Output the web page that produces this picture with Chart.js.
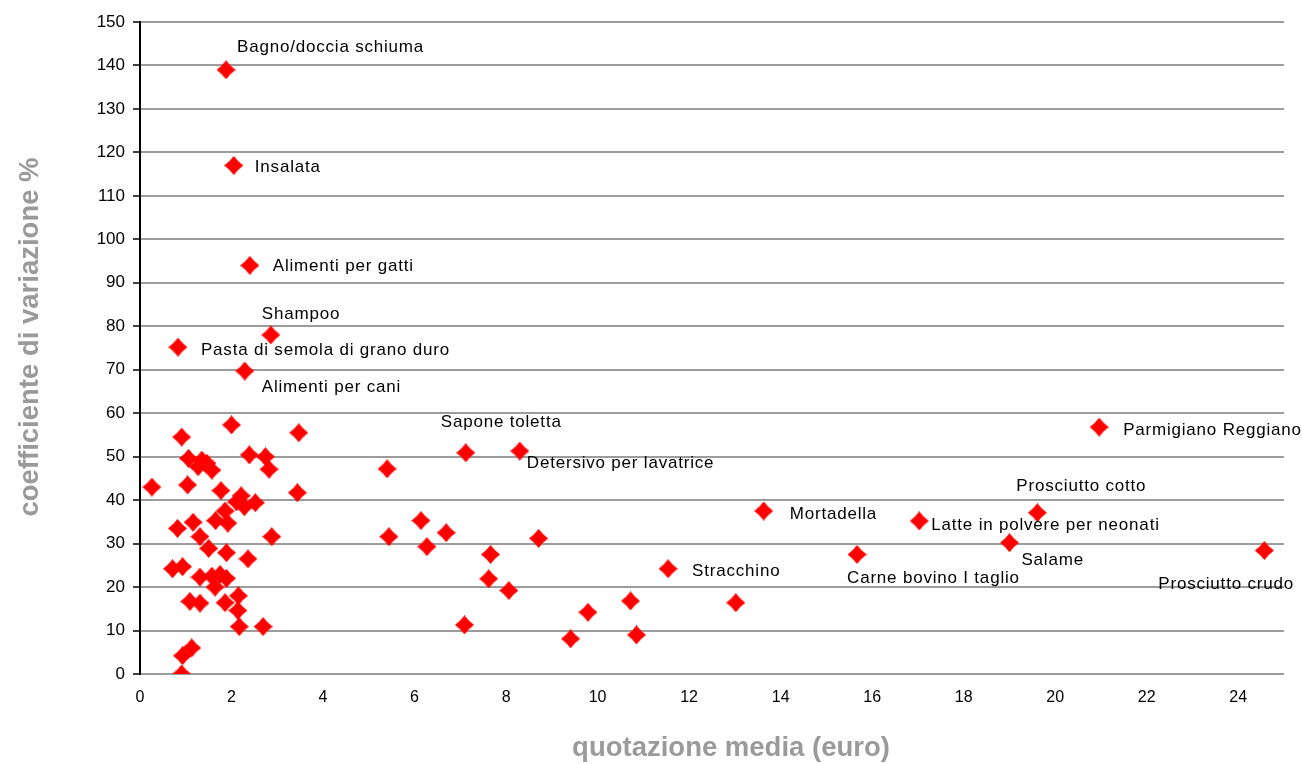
<!DOCTYPE html>
<html lang="it">
<head>
<meta charset="utf-8">
<title>Quotazione media e coefficiente di variazione</title>
<script src="https://cdn.jsdelivr.net/npm/chart.js@4.4.1/dist/chart.umd.min.js"></script>
<style>
  html, body { margin: 0; padding: 0; background: #ffffff; }
  #wrap { position: relative; width: 1302px; height: 764px; }
</style>
</head>
<body>
<div id="wrap"><canvas id="chart" width="1302" height="764"></canvas></div>
<script>
// Prodotti (nome vuoto = punto senza etichetta)
const productNames = [
  'Bagno/doccia schiuma', 'Insalata', 'Alimenti per gatti', 'Shampoo',
  'Pasta di semola di grano duro', 'Alimenti per cani', 'Sapone toletta',
  'Detersivo per lavatrice', 'Parmigiano Reggiano', 'Prosciutto cotto',
  'Mortadella', 'Latte in polvere per neonati', 'Salame',
  'Carne bovino I taglio', 'Prosciutto crudo', 'Stracchino',
  '', '', '', '', '', '', '', '', '', '', '', '', '', '', '', '', '', '', '', '',
  '', '', '', '', '', '', '', '', '', '', '', '', '', '', '', '', '', '', '', '',
  '', '', '', '', '', '', '', '', '', '', '', '', '', '', '', '', '', '', '', '',
  ''
];

// quotazione media (euro)
const priceEuro = [
  1.88, 2.05, 2.40, 2.86, 0.83, 2.29, 7.12, 8.30, 20.96, 19.61,
  13.63, 17.03, 19.00, 15.67, 24.57, 11.54,
  0.26, 0.91, 1.06, 1.35, 1.27, 1.46, 1.57, 1.04, 1.77, 2.00,
  3.47, 2.39, 2.74, 2.82, 3.44, 2.21, 2.11, 2.28, 2.52, 1.86,
  1.65, 1.92, 0.82, 1.16, 1.31, 2.88, 1.50, 1.89, 2.36, 0.71,
  0.93, 1.31, 1.57, 1.75, 1.89, 1.64, 2.15, 1.09, 1.31, 1.86,
  2.14, 2.17, 2.69, 1.13, 0.93, 0.91,
  5.40, 6.14, 5.44, 6.69, 6.27, 8.71, 7.66, 7.62, 8.06, 7.09,
  9.79, 9.41, 10.72, 10.85, 13.02
];

// coefficiente di variazione %
const cvPercent = [
  139.0, 117.0, 94.0, 78.0, 75.2, 69.7, 50.9, 51.3, 56.8, 37.1,
  37.5, 35.2, 30.2, 27.5, 28.4, 24.2,
  43.0, 54.5, 49.6, 49.2, 47.7, 48.5, 46.9, 43.5, 42.2, 57.3,
  55.5, 50.4, 50.0, 47.1, 41.7, 41.0, 39.6, 38.5, 39.4, 37.5,
  35.3, 34.7, 33.5, 34.9, 31.6, 31.6, 28.9, 27.9, 26.5, 24.2,
  24.7, 22.3, 22.5, 22.9, 22.0, 20.0, 18.0, 16.7, 16.3, 16.4,
  14.6, 10.9, 10.9, 6.0, 4.2, 0.0,
  47.2, 35.3, 31.6, 32.5, 29.3, 31.2, 27.5, 21.9, 19.2, 11.3,
  14.2, 8.1, 16.8, 9.0, 16.4
];

// tacche degli assi
const xTickValues = [0, 2, 4, 6, 8, 10, 12, 14, 16, 18, 20, 22, 24];
const yTickValues = [0, 10, 20, 30, 40, 50, 60, 70, 80, 90, 100, 110, 120, 130, 140, 150];

// spostamento (px) del testo di ogni etichetta rispetto al suo punto
const labelShift = {
  'Bagno/doccia schiuma': [11, -23],
  'Insalata': [21, 2],
  'Alimenti per gatti': [23, 1],
  'Shampoo': [-9, -21],
  'Pasta di semola di grano duro': [23, 3],
  'Alimenti per cani': [17, 16],
  'Sapone toletta': [-25, -30],
  'Detersivo per lavatrice': [7, 12],
  'Parmigiano Reggiano': [24, 3],
  'Prosciutto cotto': [-21, -26],
  'Mortadella': [26, 3],
  'Latte in polvere per neonati': [12, 4],
  'Salame': [12, 18],
  'Carne bovino I taglio': [-10, 24],
  'Prosciutto crudo': [-106, 34],
  'Stracchino': [24, 3]
};

const FONT = '"Liberation Sans", Arial, Helvetica, sans-serif';

// marcatore a rombo rosso con lati appena concavi
function makeDiamond(size) {
  const c = document.createElement('canvas');
  c.width = size; c.height = size;
  const g = c.getContext('2d');
  const m = size / 2, q = size * 0.215;
  g.fillStyle = '#ff0000';
  g.beginPath();
  g.moveTo(m, 0);
  g.quadraticCurveTo(m + q, m - q, size, m);
  g.quadraticCurveTo(m + q, m + q, m, size);
  g.quadraticCurveTo(m - q, m + q, 0, m);
  g.quadraticCurveTo(m - q, m - q, m, 0);
  g.closePath();
  g.fill();
  return c;
}
const diamond = makeDiamond(19);

const points = priceEuro.map((x, i) => ({ x: x, y: cvPercent[i], name: productNames[i] }));

// etichette dei prodotti accanto ai punti
const pointLabels = {
  id: 'pointLabels',
  afterDatasetsDraw(chart) {
    const { ctx, scales } = chart;
    ctx.save();
    ctx.font = '17px ' + FONT;
    if ('letterSpacing' in ctx) ctx.letterSpacing = '0.8px';
    ctx.fillStyle = '#000000';
    ctx.textBaseline = 'middle';
    ctx.textAlign = 'left';
    points.forEach(p => {
      if (!p.name) return;
      const s = labelShift[p.name] || [10, 0];
      const px = scales.x.getPixelForValue(p.x);
      const py = scales.y.getPixelForValue(p.y);
      ctx.fillText(p.name, px + s[0], py + s[1]);
    });
    ctx.restore();
  }
};

// titoli degli assi
const axisTitles = {
  id: 'axisTitles',
  afterDraw(chart) {
    const { ctx, chartArea } = chart;
    ctx.save();
    ctx.fillStyle = '#9a9a9a';
    ctx.font = 'bold 27.5px ' + FONT;
    ctx.textAlign = 'center';
    ctx.textBaseline = 'middle';
    ctx.fillText('quotazione media (euro)', (chartArea.left + chartArea.right) / 2 + 19, 748);
    ctx.translate(30, (chartArea.top + chartArea.bottom) / 2 - 11);
    ctx.rotate(-Math.PI / 2);
    ctx.fillText('coefficiente di variazione %', 0, 0);
    ctx.restore();
  }
};

new Chart(document.getElementById('chart'), {
  type: 'scatter',
  data: {
    datasets: [{
      label: 'prodotti',
      data: points,
      pointStyle: diamond,
      pointRadius: 9,
      pointHoverRadius: 9,
      backgroundColor: '#ff0000',
      borderColor: '#ff0000'
    }]
  },
  options: {
    responsive: false,
    animation: false,
    devicePixelRatio: 1,
    layout: { padding: { top: 22, right: 18, left: 0, bottom: 0 } },
    plugins: {
      legend: { display: false },
      tooltip: { enabled: false }
    },
    scales: {
      x: {
        type: 'linear',
        min: 0,
        max: 25,
        afterFit(scale) { scale.height = 90; },
        afterBuildTicks(scale) { scale.ticks = xTickValues.map(v => ({ value: v })); },
        grid: { display: false, drawTicks: false },
        border: { display: false },
        ticks: {
          color: '#000000',
          font: { family: FONT, size: 16 },
          padding: 14,
          maxRotation: 0,
          autoSkip: false
        }
      },
      y: {
        type: 'linear',
        min: 0,
        max: 150,
        afterFit(scale) { scale.width = 140; },
        afterBuildTicks(scale) { scale.ticks = yTickValues.map(v => ({ value: v })); },
        grid: {
          color: '#9c9c9c',
          lineWidth: 2,
          tickColor: '#000000',
          tickLength: 7,
          tickWidth: 1.5
        },
        border: { display: true, color: '#000000', width: 2 },
        ticks: {
          color: '#000000',
          font: { family: FONT, size: 17 },
          padding: 8,
          autoSkip: false
        }
      }
    }
  },
  plugins: [pointLabels, axisTitles]
});
</script>
</body>
</html>
